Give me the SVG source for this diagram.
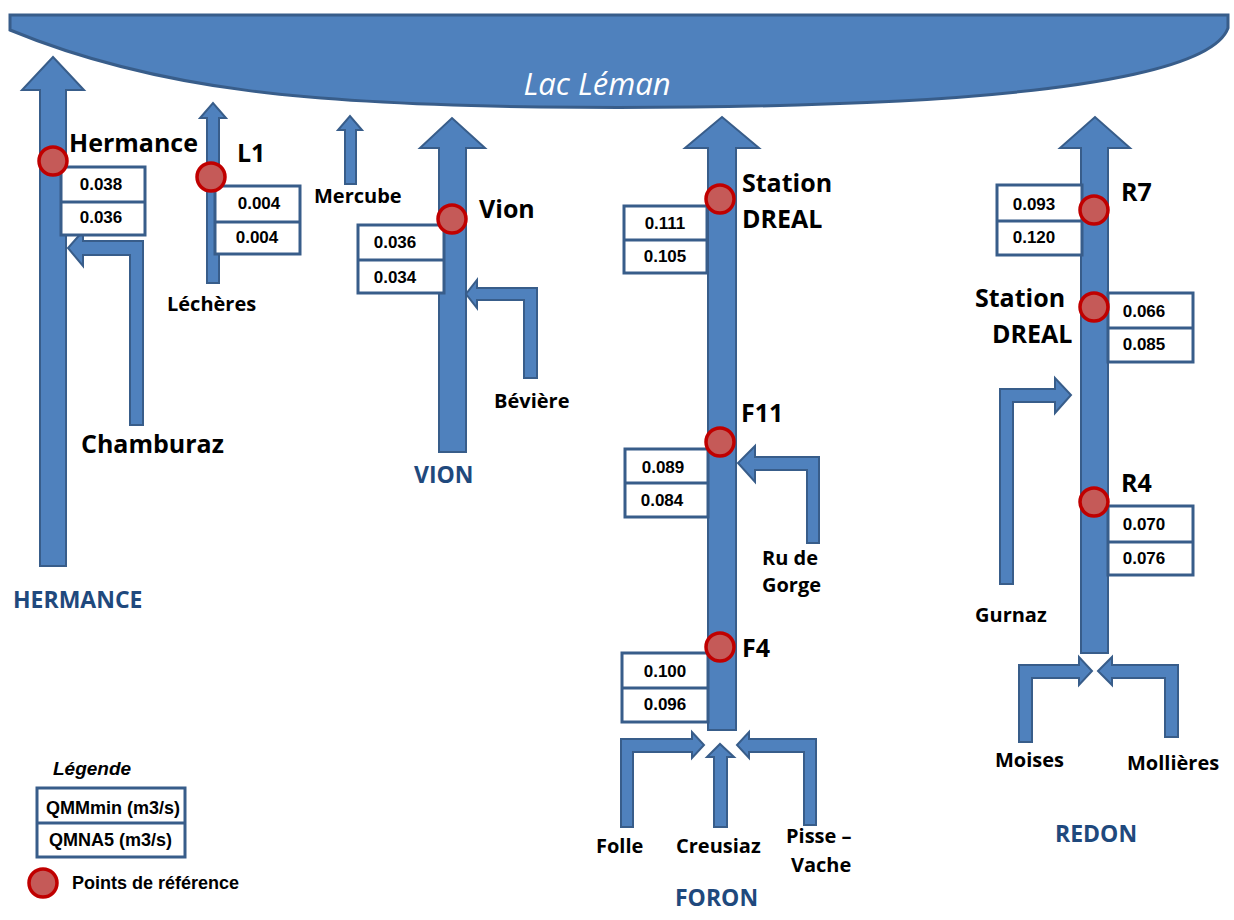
<svg xmlns="http://www.w3.org/2000/svg" width="1234" height="920" viewBox="0 0 1234 920">
<style>
.riv{fill:#4f81bd;stroke:#385d8a;stroke-width:2;stroke-linejoin:miter}
.box{fill:#fff;stroke:#385d8a;stroke-width:3}
.pt{fill:#c55a58;stroke:#c00000;stroke-width:3.5}
.val{font-family:"Liberation Sans",Arial,sans-serif;font-weight:bold;font-size:17px;fill:#000;text-anchor:middle}
.lbl{font-family:"Open Sans","Liberation Sans",sans-serif;font-weight:bold;font-size:20px;fill:#000}
.big{font-family:"Open Sans","Liberation Sans",sans-serif;font-weight:bold;font-size:25px;fill:#000}
.riv-name{font-family:"Open Sans","Liberation Sans",sans-serif;font-weight:bold;font-size:23px;fill:#1f497d}
.leg{font-family:"Liberation Sans",Arial,sans-serif;font-weight:bold;font-size:18px;fill:#000}
</style>
<rect width="1234" height="920" fill="#fff"/>
<g id="lake">
<path d="M10,15 H1228 V28 C1215,65 1100,90 900,101 C760,108 640,108 540,107 C320,104 160,92 10,30 Z" fill="#4f81bd" stroke="#385d8a" stroke-width="3"/>
<text x="597" y="95" text-anchor="middle" font-family="'Open Sans','Liberation Sans',sans-serif" font-style="italic" font-size="31" fill="#fff">Lac Léman</text>
</g>
<g id="connectors">
<polygon class="riv" points="40,566 66,566 66,90 84,90 53,57 22,90 40,90"/>
<polygon class="riv" points="207,283 219,283 219,118 226,118 213,103 200,118 207,118"/>
<polygon class="riv" points="345,184 356,184 356,130 362,130 350,116 338,130 345,130"/>
<polygon class="riv" points="439,452 466,452 466,148 485,148 452,118 420,148 439,148"/>
<polygon class="riv" points="708,730 736,730 736,148 759,148 722,117 685,148 708,148"/>
<polygon class="riv" points="1081,653 1108,653 1108,148 1130,148 1095,117 1060,148 1081,148"/>
<polygon class="riv" points="143,425 130,425 130,255 83,255 83,266 68,248 83,231 83,241 143,241"/>
<polygon class="riv" points="537,378 524,378 524,300 477,300 477,308 466,294 477,280 477,288 537,288"/>
<polygon class="riv" points="819,543 807,543 807,470 755,470 755,482 738,463 755,446 755,457 819,457"/>
<polygon class="riv" points="1000,584 1013,584 1013,402 1055,402 1055,413 1071,395 1055,378 1055,389 1000,389"/>
<polygon class="riv" points="1019,742 1032,742 1032,678 1079,678 1079,685 1092,671 1079,657 1079,665 1019,665"/>
<polygon class="riv" points="1178,737 1165,737 1165,678 1112,678 1112,685 1098,671 1112,657 1112,665 1178,665"/>
<polygon class="riv" points="621,827 633,827 633,752 692,752 692,758 704,745 692,732 692,739 621,739"/>
<polygon class="riv" points="714,827 727,827 727,757 734,757 720,744 707,757 714,757"/>
<polygon class="riv" points="816,825 804,825 804,752 749,752 749,758 737,745 749,732 749,739 816,739"/>
</g>
<g id="hermance-pt">
<rect class="box" x="61" y="167" width="84" height="68"/><line class="box" x1="61" y1="202" x2="145" y2="202"/>
<text class="val" x="101" y="190">0.038</text><text class="val" x="101" y="223">0.036</text>
<circle class="pt" cx="53" cy="161" r="14"/>
<text class="big" x="69" y="152">Hermance</text>
</g>
<g id="l1-pt">
<rect class="box" x="215" y="186" width="85" height="68"/><line class="box" x1="215" y1="222" x2="300" y2="222"/>
<text class="val" x="259" y="209">0.004</text><text class="val" x="257" y="243">0.004</text>
<circle class="pt" cx="211" cy="177" r="14"/>
<text class="big" x="237" y="162">L1</text>
</g>
<g id="vion-pt">
<rect class="box" x="358" y="225" width="86" height="68"/><line class="box" x1="358" y1="260" x2="444" y2="260"/>
<text class="val" x="395" y="248">0.036</text><text class="val" x="395" y="283">0.034</text>
<circle class="pt" cx="452" cy="219" r="14"/>
<text class="big" x="479" y="218">Vion</text>
</g>
<g id="foron-station">
<rect class="box" x="624" y="206" width="83" height="67"/><line class="box" x1="624" y1="240" x2="707" y2="240"/>
<text class="val" x="665" y="229">0.111</text><text class="val" x="665" y="262">0.105</text>
<circle class="pt" cx="720" cy="199" r="14"/>
<text class="big" x="742" y="192">Station</text><text class="big" x="742" y="228">DREAL</text>
</g>
<g id="f11">
<rect class="box" x="625" y="449" width="83" height="68"/><line class="box" x1="625" y1="483" x2="708" y2="483"/>
<text class="val" x="663" y="473">0.089</text><text class="val" x="662" y="506">0.084</text>
<circle class="pt" cx="720" cy="442" r="14"/>
<text class="big" x="741" y="422">F11</text>
</g>
<g id="f4">
<rect class="box" x="622" y="653" width="86" height="69"/><line class="box" x1="622" y1="688" x2="708" y2="688"/>
<text class="val" x="665" y="677">0.100</text><text class="val" x="665" y="710">0.096</text>
<circle class="pt" cx="720" cy="647" r="14"/>
<text class="big" x="742" y="657">F4</text>
</g>
<g id="r7">
<rect class="box" x="997" y="185" width="85" height="70"/><line class="box" x1="997" y1="221" x2="1082" y2="221"/>
<text class="val" x="1034" y="210">0.093</text><text class="val" x="1034" y="243">0.120</text>
<circle class="pt" cx="1094" cy="210" r="14"/>
<text class="big" x="1121" y="201">R7</text>
</g>
<g id="redon-station">
<rect class="box" x="1108" y="293" width="85" height="69"/><line class="box" x1="1108" y1="328" x2="1193" y2="328"/>
<text class="val" x="1144" y="317">0.066</text><text class="val" x="1144" y="350">0.085</text>
<circle class="pt" cx="1094" cy="307" r="14"/>
<text class="big" x="975" y="307">Station</text><text class="big" x="992" y="343">DREAL</text>
</g>
<g id="r4">
<rect class="box" x="1108" y="506" width="85" height="69"/><line class="box" x1="1108" y1="542" x2="1193" y2="542"/>
<text class="val" x="1144" y="530">0.070</text><text class="val" x="1144" y="564">0.076</text>
<circle class="pt" cx="1094" cy="502" r="14"/>
<text class="big" x="1121" y="492">R4</text>
</g>
<g id="labels">
<text class="lbl" x="314" y="203">Mercube</text>
<text class="lbl" x="167" y="311">Léchères</text>
<text class="big" x="81" y="453">Chamburaz</text>
<text class="lbl" x="494" y="408">Bévière</text>
<text class="lbl" x="762" y="565">Ru de</text>
<text class="lbl" x="762" y="592">Gorge</text>
<text class="lbl" x="975" y="622">Gurnaz</text>
<text class="lbl" x="995" y="767">Moises</text>
<text class="lbl" x="1127" y="770">Mollières</text>
<text class="lbl" x="596" y="853">Folle</text>
<text class="lbl" x="676" y="853">Creusiaz</text>
<text class="lbl" x="786" y="843">Pisse –</text>
<text class="lbl" x="791" y="872">Vache</text>
<text class="riv-name" x="13" y="608">HERMANCE</text>
<text class="riv-name" x="414" y="483">VION</text>
<text class="riv-name" x="675" y="906">FORON</text>
<text class="riv-name" x="1055" y="842">REDON</text>
</g>
<g id="legend">
<text x="53" y="775" font-family="'Liberation Sans',Arial,sans-serif" font-weight="bold" font-style="italic" font-size="19">Légende</text>
<rect class="box" x="37" y="788" width="148" height="69"/><line class="box" x1="37" y1="823" x2="185" y2="823"/>
<text class="leg" x="46" y="814">QMMmin (m3/s)</text>
<text class="leg" x="49" y="846">QMNA5 (m3/s)</text>
<circle class="pt" cx="43" cy="883" r="14"/>
<text class="leg" x="72" y="889">Points de référence</text>
</g>
</svg>
